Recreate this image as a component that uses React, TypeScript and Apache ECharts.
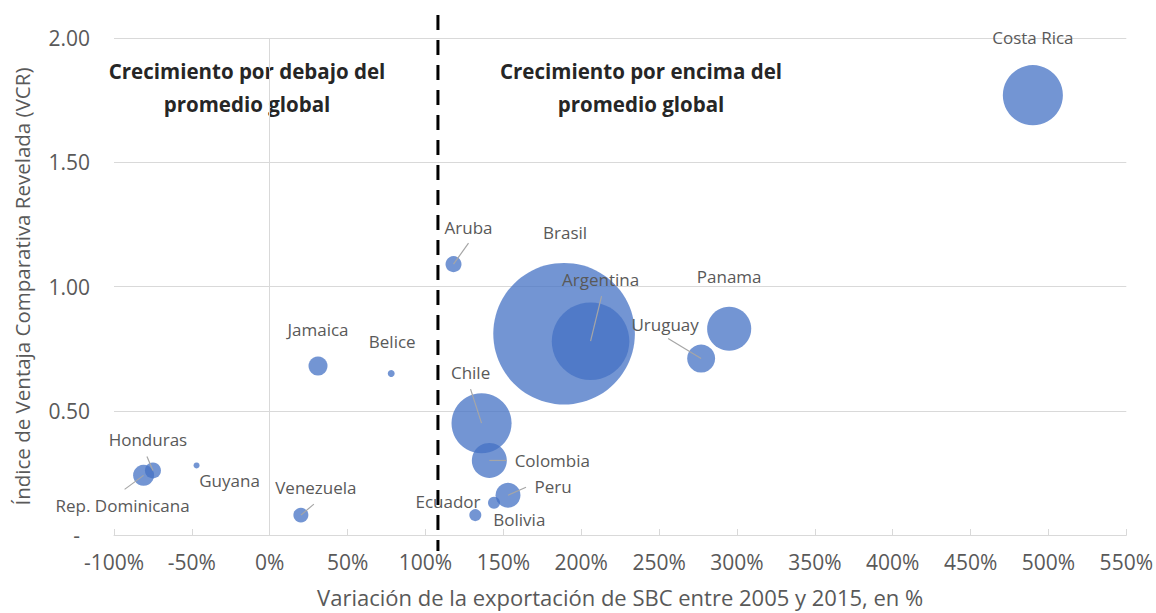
import React, { useEffect, useRef } from "react";
import * as echarts from "echarts";

// Countries, growth of SBC exports 2005-2015 (%), VCR index, bubble size (relative exports)
const countries = [
  "Brasil", "Argentina", "Costa Rica", "Chile", "Panama", "Colombia", "Uruguay",
  "Peru", "Rep. Dominicana", "Jamaica", "Aruba", "Honduras", "Venezuela",
  "Ecuador", "Bolivia", "Belice", "Guyana",
];
const growthPct = [189, 206, 490, 136, 295, 141, 277, 153, -81, 31, 118, -75, 20, 144, 132, 78, -47];
const vcrIndex = [0.81, 0.78, 1.77, 0.45, 0.83, 0.30, 0.71, 0.16, 0.24, 0.68, 1.09, 0.26, 0.08, 0.13, 0.08, 0.65, 0.28];
const bubbleSize = [100, 30, 18, 18, 9.7, 6.1, 3.9, 3.1, 2.2, 1.8, 1.28, 1.28, 1.12, 0.72, 0.72, 0.24, 0.18];

const globalAverageGrowth = 108;

const xTicks = { min: -100, max: 550, step: 50 };
const yTicks = { min: 0, max: 2, step: 0.5 };

// label placement (pixel offsets from bubble centre): [dx, dy, leaderX, leaderY] (leader null = none)
const labelPlacement: Array<[number, number, number | null, number | null]> = [
  [1, -101, null, null],   // Brasil
  [10, -62, 11, -45],      // Argentina
  [0, -58, null, null],    // Costa Rica
  [-11, -51, -11, -34],    // Chile
  [0, -52, null, null],    // Panama
  [63, 0, 17, 0],          // Colombia
  [-36, -34, -33, -20],    // Uruguay
  [45, -9, 18, -8],        // Peru
  [-21, 30, -19, 14],      // Rep. Dominicana
  [0, -37, null, null],    // Jamaica
  [15, -37, 15, -21],      // Aruba
  [-5, -31, -6, -14],      // Honduras
  [15, -28, 13, -11],      // Venezuela
  [-46, -1, null, null],   // Ecuador
  [44, 4, null, null],     // Bolivia
  [1, -32, null, null],    // Belice
  [33, 15, null, null],    // Guyana
];

const FONT = "'Open Sans', 'Noto Sans', sans-serif";
const GRAY_TEXT = "#595959";
const GRID_GRAY = "#d9d9d9";

const noteStyle = (text: string) => ({
  text,
  fill: "#262626",
  fontSize: 20.5,
  fontWeight: "bold",
  fontFamily: FONT,
  align: "center",
  verticalAlign: "middle",
});

export default function App() {
  const ref = useRef<HTMLDivElement>(null);

  useEffect(() => {
    if (!ref.current) return;
    const chart = echarts.init(ref.current, null, { renderer: "svg" });

    const points = countries.map((name, i) => [growthPct[i], vcrIndex[i], bubbleSize[i], name]);

    const option: any = {
      animation: false,
      backgroundColor: "#ffffff",
      grid: { left: 114, right: 23, top: 38, bottom: 76, containLabel: false },
      xAxis: {
        type: "value",
        min: xTicks.min,
        max: xTicks.max,
        interval: xTicks.step,
        name: "Variación de la exportación de SBC entre 2005 y 2015, en %",
        nameLocation: "middle",
        nameGap: 51,
        nameTextStyle: { color: GRAY_TEXT, fontSize: 22, fontFamily: FONT },
        axisLine: { show: true, onZero: false, lineStyle: { color: GRID_GRAY, width: 1 } },
        axisTick: { show: true, inside: true, length: 6, lineStyle: { color: GRID_GRAY } },
        splitLine: { show: false },
        axisLabel: {
          formatter: (v: number) => `${v}%`,
          color: GRAY_TEXT,
          fontSize: 21,
          fontFamily: FONT,
          margin: 16,
        },
      },
      yAxis: {
        type: "value",
        min: yTicks.min,
        max: yTicks.max,
        interval: yTicks.step,
        name: "Índice de Ventaja Comparativa Revelada (VCR)",
        nameLocation: "middle",
        nameGap: 82,
        nameRotate: 90,
        nameTextStyle: { color: GRAY_TEXT, fontSize: 20.5, fontFamily: FONT },
        axisLine: { show: false },
        axisTick: { show: false },
        splitLine: { show: true, lineStyle: { color: GRID_GRAY, width: 1 } },
        axisLabel: {
          formatter: (v: number) => (v === 0 ? "{d|-}" : v.toFixed(2)),
          rich: { d: { color: GRAY_TEXT, fontSize: 21, fontFamily: FONT, padding: [0, 10, 0, 0] } },
          color: GRAY_TEXT,
          fontSize: 21,
          fontFamily: FONT,
          margin: 24,
        },
      },
      graphic: [
        { type: "text", x: 247, y: 71, style: noteStyle("Crecimiento por debajo del") },
        { type: "text", x: 247, y: 104, style: noteStyle("promedio global") },
        { type: "text", x: 641, y: 71, style: noteStyle("Crecimiento por encima del") },
        { type: "text", x: 641, y: 104, style: noteStyle("promedio global") },
      ],
      series: [
        {
          type: "scatter",
          data: points,
          symbolSize: (val: any[]) => Math.sqrt(val[2]) * 14.16,
          itemStyle: { color: "#4472C4", opacity: 0.75 },
          markLine: {
            silent: true,
            symbol: "none",
            label: { show: false },
            lineStyle: { color: GRID_GRAY, type: "solid", width: 1 },
            data: [{ xAxis: 0 }],
          },
          z: 2,
        },
        {
          type: "custom",
          clip: false,
          data: points.map((p) => [p[0], p[1]]),
          renderItem: (params: any, api: any) => {
            const i = params.dataIndex;
            const c = api.coord([api.value(0), api.value(1)]);
            const [dx, dy, lx, ly] = labelPlacement[i];
            const children: any[] = [];
            if (lx !== null && ly !== null) {
              children.push({
                type: "line",
                shape: { x1: c[0] + lx, y1: c[1] + ly, x2: c[0], y2: c[1] },
                style: { stroke: "#a6a6a6", lineWidth: 1.2 },
              });
            }
            children.push({
              type: "text",
              x: c[0] + dx,
              y: c[1] + dy,
              style: {
                text: countries[i],
                fill: GRAY_TEXT,
                fontSize: 17,
                fontFamily: FONT,
                align: "center",
                verticalAlign: "middle",
              },
            });
            return { type: "group", children };
          },
          z: 5,
        },
        {
          type: "custom",
          clip: false,
          data: [[globalAverageGrowth, yTicks.min]],
          renderItem: (params: any, api: any) => {
            const top = api.coord([api.value(0), yTicks.max]);
            const bottom = api.coord([api.value(0), yTicks.min]);
            return {
              type: "line",
              shape: { x1: top[0], y1: top[1] - 23, x2: bottom[0], y2: bottom[1] + 16 },
              style: { stroke: "#000000", lineWidth: 3, lineDash: [15, 10] },
            };
          },
          z: 6,
        },
      ],
    };

    chart.setOption(option);
    return () => chart.dispose();
  }, []);

  return (
    <div
      ref={ref}
      style={{ position: "absolute", left: 0, top: 0, width: 1156, height: 613 }}
    />
  );
}
